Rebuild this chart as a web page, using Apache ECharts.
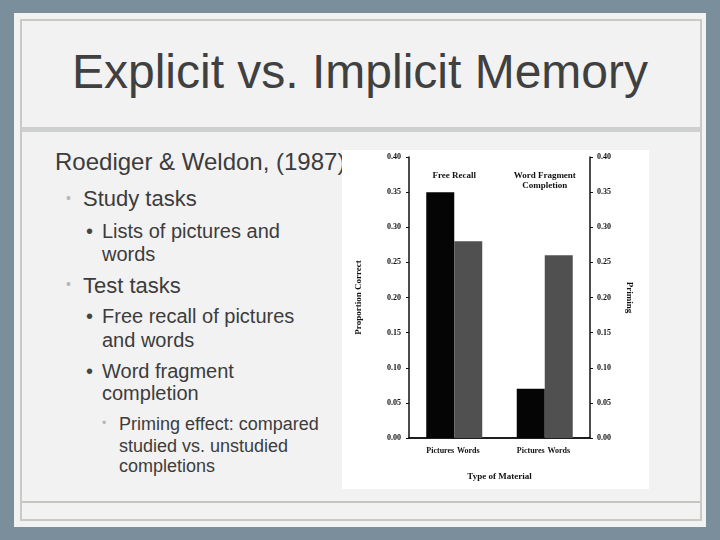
<!DOCTYPE html>
<html><head><meta charset="utf-8">
<script src="https://cdn.jsdelivr.net/npm/echarts@6/dist/echarts.min.js"></script>
<style>
html,body{margin:0;padding:0;width:720px;height:540px;overflow:hidden;background:#7a8f9b;font-family:"Liberation Sans",Arial,sans-serif;}
#panel{position:absolute;left:14px;top:13px;width:692px;height:514px;background:#f2f2f2;}
#frame{position:absolute;left:20px;top:19px;width:678px;height:498px;border:2px solid #c9c9c5;}
#sep1{position:absolute;left:22px;top:127px;width:678px;height:5px;background:#cdd0cf;}
#sep2{position:absolute;left:22px;top:501px;width:678px;height:2px;background:#c4c4c0;}
.t{position:absolute;white-space:nowrap;color:#3c3c3c;}
#title{left:0;width:720px;text-align:center;top:48px;font-size:48px;line-height:48px;color:#404040;}
.b1{font-size:22px;line-height:22px;}
.b2{font-size:20px;line-height:20px;}
.b3{font-size:18px;line-height:18px;}
#chart{position:absolute;left:342px;top:150px;width:307px;height:339px;background:#fff;}
</style></head>
<body>
<div id="panel"></div>
<div id="frame"></div>
<div id="sep1"></div>
<div id="sep2"></div>
<div class="t" id="title">Explicit vs. Implicit Memory</div>
<div class="t" style="left:55px;top:150px;font-size:24px;line-height:24px;">Roediger &amp; Weldon, (1987)</div>
<div class="t" style="left:66px;top:191px;font-size:14px;line-height:14px;color:#b4b8ba;">•</div>
<div class="t b1" style="left:83px;top:188px;">Study tasks</div>
<div class="t b2" style="left:86px;top:221px;color:#444;">•</div>
<div class="t b2" style="left:102px;top:221px;">Lists of pictures and</div>
<div class="t b2" style="left:102px;top:244px;">words</div>
<div class="t" style="left:66px;top:277px;font-size:14px;line-height:14px;color:#b4b8ba;">•</div>
<div class="t b1" style="left:83px;top:275px;">Test tasks</div>
<div class="t b2" style="left:86px;top:306px;color:#444;">•</div>
<div class="t b2" style="left:102px;top:306px;">Free recall of pictures</div>
<div class="t b2" style="left:102px;top:330px;">and words</div>
<div class="t b2" style="left:86px;top:361px;color:#444;">•</div>
<div class="t b2" style="left:102px;top:361px;">Word fragment</div>
<div class="t b2" style="left:102px;top:383px;">completion</div>
<div class="t" style="left:102px;top:417px;font-size:12px;line-height:12px;color:#b4b8ba;">•</div>
<div class="t b3" style="left:119px;top:415px;">Priming effect: compared</div>
<div class="t b3" style="left:119px;top:437px;">studied vs. unstudied</div>
<div class="t b3" style="left:119px;top:457px;">completions</div>
<div id="chart"></div>
<script>
var groups = ["Free Recall", "Word Fragment\nCompletion"];
var picturesValues = [0.35, 0.07];
var wordsValues = [0.28, 0.26];
var seriesNames = ["Pictures", "Words"];
var leftAxisName = "Proportion Correct";
var rightAxisName = "Priming";
var xAxisName = "Type of Material";

var serif = '"Liberation Serif","Times New Roman",serif';
var tickLabel = {fontFamily: serif, fontWeight: 'bold', fontSize: 8, color: '#111',
  formatter: function (v) { return v.toFixed(2); }};
var chart = echarts.init(document.getElementById('chart'), null, {renderer: 'canvas'});
chart.setOption({
  backgroundColor: '#ffffff',
  animation: false,
  grid: {left: 67, right: 59, top: 7, bottom: 51},
  xAxis: [
    {type: 'category', data: groups, position: 'top',
     axisLine: {lineStyle: {color: '#111', width: 1.5}}, axisTick: {show: false},
     axisLabel: {inside: true, margin: 14, fontFamily: serif, fontWeight: 'bold', fontSize: 9,
       lineHeight: 10, color: '#111', verticalAlign: 'top'}},
    {type: 'category', data: groups, position: 'bottom',
     axisLine: {lineStyle: {color: '#111', width: 1.5}}, axisTick: {show: false},
     axisLabel: {show: false},
     name: xAxisName, nameLocation: 'middle', nameGap: 34,
     nameTextStyle: {fontFamily: serif, fontWeight: 'bold', fontSize: 9, color: '#111'}}
  ],
  yAxis: [
    {type: 'value', min: 0, max: 0.4, interval: 0.05, position: 'left',
     axisLine: {show: true, lineStyle: {color: '#111', width: 1.5}},
     axisTick: {show: true, length: 3, lineStyle: {color: '#111'}},
     splitLine: {show: false}, axisLabel: Object.assign({margin: 8}, tickLabel),
     name: leftAxisName, nameLocation: 'middle', nameGap: 46, nameRotate: 90,
     nameTextStyle: {fontFamily: serif, fontWeight: 'bold', fontSize: 9, color: '#111'}},
    {type: 'value', min: 0, max: 0.4, interval: 0.05, position: 'right',
     axisLine: {show: true, lineStyle: {color: '#111', width: 1.5}},
     axisTick: {show: true, length: 3, lineStyle: {color: '#111'}},
     splitLine: {show: false}, axisLabel: Object.assign({margin: 7}, tickLabel),
     name: rightAxisName, nameLocation: 'middle', nameGap: 35, nameRotate: -90,
     nameTextStyle: {fontFamily: serif, fontWeight: 'bold', fontSize: 9, color: '#111'}}
  ],
  series: [
    {name: seriesNames[0], type: 'bar', xAxisIndex: 1, yAxisIndex: 0, data: picturesValues,
     barWidth: 28, barGap: '0%', itemStyle: {color: '#050505'},
     label: {show: true, position: 'bottom', distance: 9, formatter: '{a}',
       fontFamily: serif, fontWeight: 'bold', fontSize: 8, color: '#111'}},
    {name: seriesNames[1], type: 'bar', xAxisIndex: 1, yAxisIndex: 0, data: wordsValues,
     barWidth: 28, barGap: '0%', itemStyle: {color: '#505050'},
     label: {show: true, position: 'bottom', distance: 9, formatter: '{a}',
       fontFamily: serif, fontWeight: 'bold', fontSize: 8, color: '#111'}}
  ]
});
</script>
</body></html>
